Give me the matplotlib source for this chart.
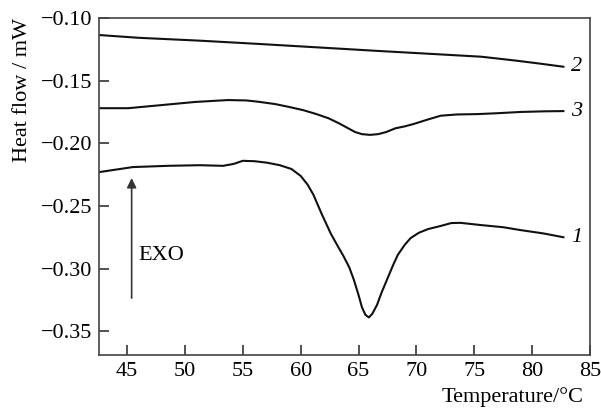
import matplotlib
matplotlib.use("Agg")
import matplotlib.pyplot as plt

plt.rcParams['font.family'] = ['Liberation Serif', 'DejaVu Serif']
plt.rcParams['mathtext.fontset'] = 'stix'

# curve 1
t1 = [42.6, 45.5, 48.5, 51.3, 53.3, 54.2, 55.0, 56.0, 57.1, 58.2, 59.2, 60.0, 60.6, 61.1,
      61.8, 62.6, 63.2, 63.7, 64.2, 64.6, 65.0, 65.3, 65.6, 65.9, 66.2, 66.6, 67.0, 67.5,
      68.0, 68.4, 69.0, 69.5, 70.2, 71.0, 72.1, 73.0, 73.8, 75.6, 77.5, 79.0, 81.0, 82.7]
hf1 = [-0.223, -0.219, -0.218, -0.2175, -0.218, -0.2165, -0.214, -0.2143, -0.2155, -0.2175,
       -0.2205, -0.226, -0.233, -0.241, -0.256, -0.272, -0.282, -0.290, -0.299, -0.309,
       -0.321, -0.331, -0.337, -0.339, -0.336, -0.329, -0.319, -0.308, -0.297, -0.289,
       -0.281, -0.2757, -0.2715, -0.2685, -0.266, -0.2637, -0.2635, -0.2653, -0.267,
       -0.2693, -0.272, -0.275]

# curve 2
t2 = [42.6, 46.0, 51.3, 56.0, 61.0, 66.9, 71.0, 75.6, 78.4, 80.5, 82.7]
hf2 = [-0.1136, -0.1158, -0.1181, -0.1205, -0.1232, -0.1264, -0.1285, -0.1309, -0.1338,
       -0.1362, -0.1389]

# curve 3
t3 = [42.6, 45.1, 48.0, 50.9, 53.7, 55.3, 56.3, 57.8, 59.0, 60.2, 61.3, 62.4, 63.3, 64.1,
      64.7, 65.3, 66.0, 66.7, 67.4, 68.2, 69.0, 69.8, 71.0, 72.1, 73.5, 75.3, 77.0, 79.0,
      81.0, 82.7]
hf3 = [-0.172, -0.172, -0.1695, -0.167, -0.1655, -0.1658, -0.1668, -0.1687, -0.171, -0.1735,
       -0.1765, -0.180, -0.184, -0.188, -0.191, -0.1927, -0.1933, -0.1927, -0.191, -0.188,
       -0.1865, -0.1845, -0.181, -0.178, -0.177, -0.1767, -0.176, -0.175, -0.1745, -0.1743]

curve_names = ["1", "2", "3"]
xticks = [45, 50, 55, 60, 65, 70, 75, 80, 85]
yticks = [-0.35, -0.30, -0.25, -0.20, -0.15, -0.10]

fs = 16
fig = plt.figure(figsize=(6.01, 4.12), dpi=100)
ax = fig.add_axes([99 / 601, 1 - 355 / 412, 491 / 601, 337 / 412])

for t, hf, name in zip([t1, t2, t3], [hf1, hf2, hf3], curve_names):
    ax.plot(t, hf, color='#111111', lw=1.5)
    ax.text(t[-1] + 0.7, hf[-1], name, fontsize=fs, style='italic',
            ha='left', va='center')

ax.set_xlim(42.58, 85)
ax.set_ylim(-0.369, -0.10)
ax.set_xticks(xticks)
ax.set_yticks(yticks)
ax.set_yticklabels(["\u2212%.2f" % abs(v) for v in yticks])
ax.tick_params(direction='in', length=7, width=1.2, labelsize=fs, color='#333333',
               top=False, right=False, pad=5)
for s in ax.spines.values():
    s.set_color('#444444')
    s.set_linewidth(1.2)

# EXO arrow
ax.annotate("", xy=(45.4, -0.2278), xytext=(45.4, -0.3236),
            arrowprops=dict(arrowstyle='-|>', color='#333333', lw=1.2,
                            mutation_scale=14, shrinkA=0, shrinkB=0))
ax.text(46.0, -0.2897, "EXO", fontsize=fs, ha='left', va='center')

ax.set_ylabel("Heat flow / mW", fontsize=fs)
ax.yaxis.set_label_coords(-0.137, 0.786)
ax.set_xlabel("Temperature/\u00b0C", fontsize=fs, ha='right')
ax.xaxis.set_label_coords(0.987, -0.095)

fig.savefig("out.png", dpi=100)
